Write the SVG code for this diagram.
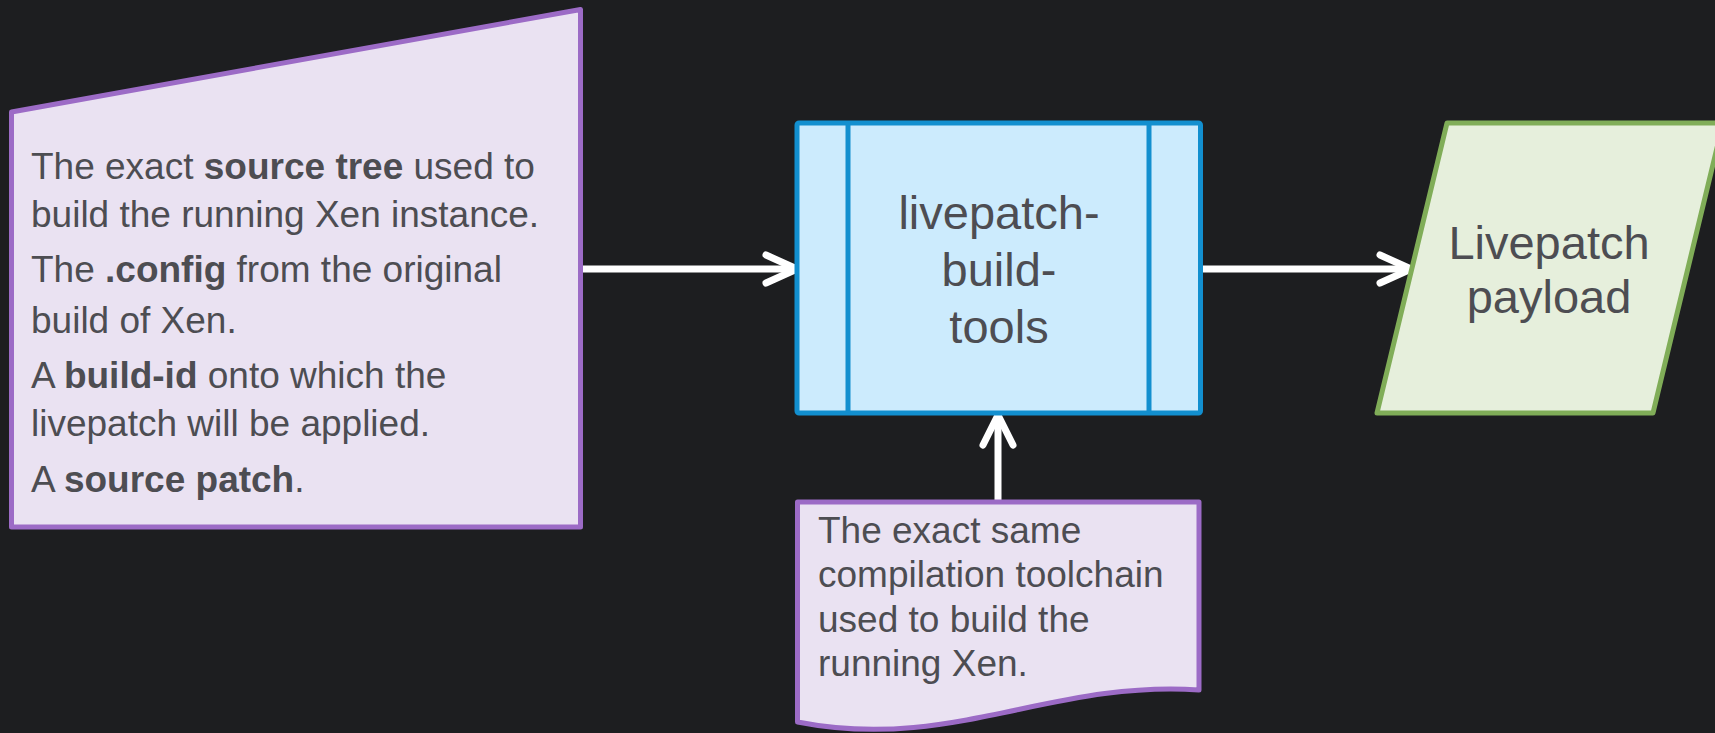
<svg xmlns="http://www.w3.org/2000/svg" width="1715" height="733" viewBox="0 0 1715 733">
<defs>
<style>
.t{font-family:"Liberation Sans",Arial,Helvetica,sans-serif;fill:#4d4d52}
.s37{font-size:37px}
.s47{font-size:47px}
.b{font-weight:bold}
.purple{fill:#eae2f2;stroke:#9c6bc6;stroke-width:5;stroke-linejoin:round}
.blue{fill:#ccebfd;stroke:#128fcf;stroke-width:5;stroke-linejoin:round}
.green{fill:#e6efdc;stroke:#80ad58;stroke-width:5;stroke-linejoin:round}
.conn{fill:none;stroke:#ffffff;stroke-width:7;stroke-linecap:round;stroke-linejoin:round}
</style>
</defs>
<rect x="0" y="0" width="1715" height="733" fill="#1d1e20"/>

<g id="connectors">
<path class="conn" d="M580,269 H795"/>
<path class="conn" d="M766,255 L797,269 L766,283"/>
<path class="conn" d="M1201,269 H1409"/>
<path class="conn" d="M1380,255 L1411,269 L1380,283"/>
<path class="conn" d="M998,502 V417"/>
<path class="conn" d="M983,445 L998,415 L1013,445"/>
</g>

<g id="node-inputs">
<path class="purple" d="M11.5,112 L580.5,9.5 L580.5,527 L11.5,527 Z"/>
<text class="t s37" x="31" y="179">The exact <tspan class="b">source tree</tspan> used to</text>
<text class="t s37" x="31" y="227">build the running Xen instance.</text>
<text class="t s37" x="31" y="282">The <tspan class="b">.config</tspan> from the original</text>
<text class="t s37" x="31" y="333">build of Xen.</text>
<text class="t s37" x="31" y="388">A <tspan class="b">build-id</tspan> onto which the</text>
<text class="t s37" x="31" y="436">livepatch will be applied.</text>
<text class="t s37" x="31" y="492">A <tspan class="b">source patch</tspan>.</text>
</g>

<g id="node-tools">
<rect class="blue" x="797" y="123" width="403.5" height="290" rx="2"/>
<line x1="848" y1="123" x2="848" y2="413" stroke="#128fcf" stroke-width="5"/>
<line x1="1149" y1="123" x2="1149" y2="413" stroke="#128fcf" stroke-width="5"/>
<text class="t s47" text-anchor="middle" x="999" y="229">livepatch-</text>
<text class="t s47" text-anchor="middle" x="999" y="286">build-</text>
<text class="t s47" text-anchor="middle" x="999" y="343">tools</text>
</g>

<g id="node-payload">
<path class="green" d="M1447,123 L1723,123 L1653,413 L1377,413 Z"/>
<text class="t s47" text-anchor="middle" x="1549" y="259">Livepatch</text>
<text class="t s47" text-anchor="middle" x="1549" y="313">payload</text>
</g>

<g id="node-toolchain">
<path class="purple" d="M797.5,502 L1199,502 L1199,690 C1050,680 950,752 797.5,722 Z"/>
<text class="t s37" x="818" y="543">The exact same</text>
<text class="t s37" x="818" y="587">compilation toolchain</text>
<text class="t s37" x="818" y="632">used to build the</text>
<text class="t s37" x="818" y="676">running Xen.</text>
</g>
</svg>
